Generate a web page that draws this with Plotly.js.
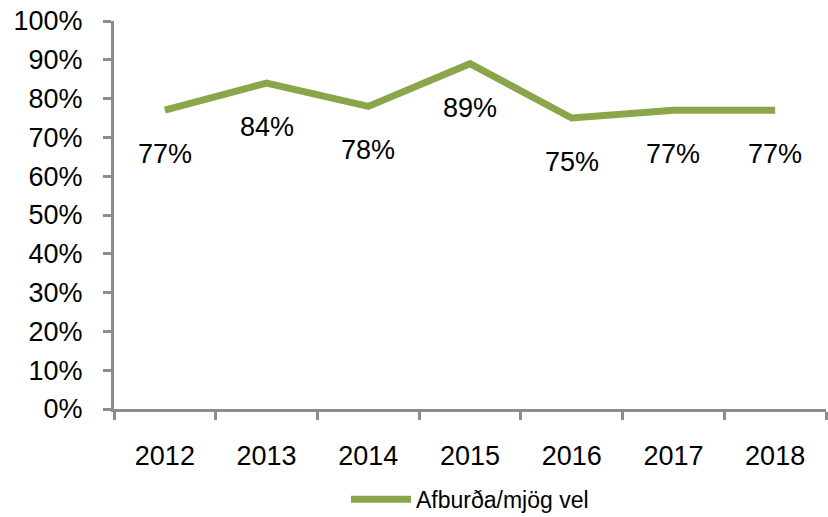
<!DOCTYPE html>
<html>
<head>
<meta charset="utf-8">
<script src="https://cdn.plot.ly/plotly-3.0.1.min.js"></script>
<style>
  body { margin: 0; background: #fff; }
  #chart { width: 828px; height: 517px; }
</style>
</head>
<body>
<div id="chart"></div>
<script>
var years = ["2012", "2013", "2014", "2015", "2016", "2017", "2018"];
var afburda = [0.77, 0.84, 0.78, 0.89, 0.75, 0.77, 0.77];
var seriesName = "Afburða/mjög vel";

var green = "#8aa64b";
var axisGrey = "#8c8c8c";
var font = "Liberation Sans, Arial, sans-serif";

var trace = {
  x: years,
  y: afburda,
  mode: "lines",
  type: "scatter",
  name: seriesName,
  line: { color: green, width: 7 },
  hoverinfo: "skip"
};

// value labels sit under each point (x given as category index)
var labels = years.map(function(yr, i) {
  return {
    x: i,
    y: afburda[i],
    xref: "x",
    yref: "y",
    text: Math.round(afburda[i] * 100) + "%",
    showarrow: false,
    yshift: -44,
    font: { family: font, size: 27, color: "#000" }
  };
});

var layout = {
  width: 828,
  height: 517,
  margin: { l: 114, r: 2, t: 21, b: 108, autoexpand: false },
  paper_bgcolor: "#fff",
  plot_bgcolor: "#fff",
  font: { family: font, size: 27, color: "#000" },
  showlegend: true,
  legend: {
    orientation: "h",
    x: 0.5,
    xanchor: "center",
    yref: "container",
    y: 0.034,
    yanchor: "middle",
    itemwidth: 60,
    font: { family: font, size: 23, color: "#000" }
  },
  xaxis: {
    type: "category",
    range: [-0.5, 6.5],
    showline: true,
    linecolor: axisGrey,
    linewidth: 3,
    ticks: "outside",
    tickson: "boundaries",
    ticklen: 8,
    tickwidth: 3,
    tickcolor: axisGrey,
    showgrid: false,
    zeroline: false,
    ticklabelstandoff: 21,
    tickfont: { family: font, size: 27, color: "#000" }
  },
  yaxis: {
    range: [0, 1],
    dtick: 0.1,
    tickformat: ".0%",
    showline: true,
    linecolor: axisGrey,
    linewidth: 3,
    ticks: "outside",
    ticklen: 8,
    tickwidth: 3,
    tickcolor: axisGrey,
    showgrid: false,
    zeroline: false,
    ticklabelstandoff: 15,
    tickfont: { family: font, size: 27, color: "#000" }
  },
  annotations: labels
};

Plotly.newPlot("chart", [trace], layout, { displayModeBar: false, staticPlot: true });
</script>
</body>
</html>
